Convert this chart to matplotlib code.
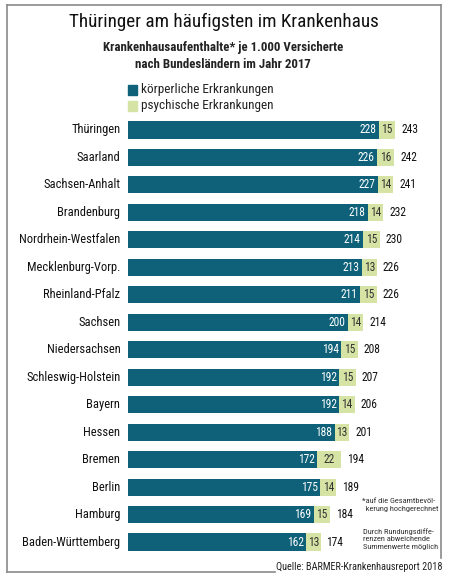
import matplotlib
matplotlib.use("Agg")
import matplotlib.pyplot as plt
from matplotlib.patches import Rectangle
from matplotlib.lines import Line2D

# data
states = ["Thüringen", "Saarland", "Sachsen-Anhalt", "Brandenburg",
          "Nordrhein-Westfalen", "Mecklenburg-Vorp.", "Rheinland-Pfalz",
          "Sachsen", "Niedersachsen", "Schleswig-Holstein", "Bayern",
          "Hessen", "Bremen", "Berlin", "Hamburg", "Baden-Württemberg"]
physical = [228, 226, 227, 218, 214, 213, 211, 200, 194, 192, 192, 188, 172, 175, 169, 162]
mental = [15, 16, 14, 14, 15, 13, 15, 14, 15, 15, 14, 13, 22, 14, 15, 13]
totals = [243, 242, 241, 232, 230, 226, 226, 214, 208, 207, 206, 201, 194, 189, 184, 174]

title = "Thüringer am häufigsten im Krankenhaus"
subtitle = "Krankenhausaufenthalte* je 1.000 Versicherte\nnach Bundesländern im Jahr 2017"
legend_labels = ["körperliche Erkrankungen", "psychische Erkrankungen"]
source = "Quelle: BARMER-Krankenhausreport 2018"

TEAL = "#0e6179"
GREEN = "#d5e4a4"
FONT = ["Liberation Sans Narrow", "Roboto Condensed", "Lato", "DejaVu Sans"]
plt.rcParams["font.family"] = FONT

W, H = 452, 578
fig = plt.figure(figsize=(W / 100, H / 100), dpi=100)


def fx(x):
    return x / W


def fy(y):
    return 1 - y / H


# bars: value 0 at x=128px, 1.10 px per unit, rows 27.47 px apart
scale = 1.10
ax_left, ax_right = 128, 442
top, bot = 130 - 27.47 / 2, 542 + 27.47 / 2
ax = fig.add_axes([fx(ax_left), fy(bot), (ax_right - ax_left) / W, (bot - top) / H])
ax.set_xlim(0, (ax_right - ax_left) / scale)
ax.set_ylim(len(states) - 0.5, -0.5)
ax.axis("off")

y = list(range(len(states)))
ax.barh(y, physical, height=0.62, color=TEAL)
ax.barh(y, mental, left=physical, height=0.62, color=GREEN)

for i in y:
    p, m = physical[i], mental[i]
    ax.text(p - 2.3, i, str(p), color="white", ha="right", va="center", fontsize=8.3)
    ax.text(p + m / 2, i, str(m), color="#333333", ha="center", va="center", fontsize=8.3)
    ax.text(p + m + 5.5, i, str(totals[i]), color="#111111", ha="left", va="center", fontsize=8.3)
    ax.text(-7, i, states[i], ha="right", va="center", fontsize=9, color="#111111")

fig.text(fx(224), fy(22), title, ha="center", va="center", fontsize=13.8, color="#111111")
fig.text(fx(223), fy(56), subtitle, ha="center", va="center", fontsize=9.3,
         fontweight="bold", color="#222222", linespacing=1.5)

# legend
for k, (lab, col) in enumerate(zip(legend_labels, [TEAL, GREEN])):
    yc = 90 + k * 16
    fig.add_artist(Rectangle((fx(128), fy(yc + 4.5)), 9 / W, 9 / H, color=col,
                             transform=fig.transFigure))
    fig.text(fx(141), fy(yc), lab, ha="left", va="center", fontsize=9.5, color="#222222")

# notes
fig.text(fx(362), fy(505), "*auf die Gesamtbevöl-\n  kerung hochgerechnet", ha="left",
         va="center", fontsize=6, color="#333333", linespacing=1.3)
fig.text(fx(363), fy(539), "Durch Rundungsdiffe-\nrenzen abweichende\nSummenwerte möglich",
         ha="left", va="center", fontsize=6, color="#333333", linespacing=1.3)
fig.text(fx(443), fy(567), source, ha="right", va="center", fontsize=7.4, color="#222222")

# frame around the graphic
frame = "#8a8a8a"
for xs, ys in [([7, 441], [5, 5]), ([7, 7], [5, 572]), ([7, 275], [572, 572]),
               ([441, 441], [5, 558])]:
    fig.add_artist(Line2D([fx(v) for v in xs], [fy(v) for v in ys], color=frame,
                          lw=1.2, transform=fig.transFigure))

fig.savefig("out.png", dpi=100, facecolor="white")
